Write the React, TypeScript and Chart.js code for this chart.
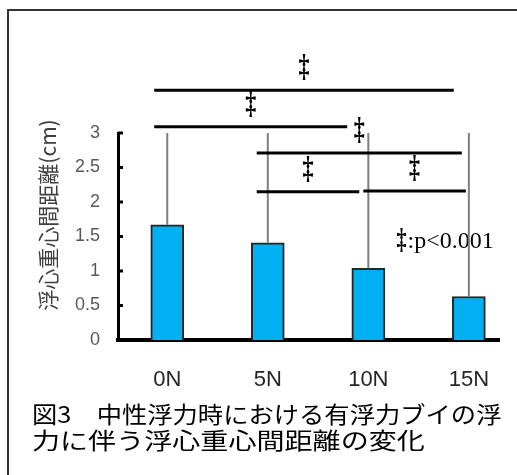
import React, { useEffect, useRef } from 'react';
import { Chart, registerables } from 'chart.js';

Chart.register(...registerables);

const categories = ['0N', '5N', '10N', '15N'];
const means = [1.67, 1.41, 1.04, 0.63];
const errors = [1.5, 1.7, 2.1, 2.5];
const yMin = 0;
const yMax = 3;
const yStep = 0.5;

// significance brackets (data units): start x, end x, level y
const sigStart = [-0.13, -0.13, 0.89, 0.89, 1.95];
const sigEnd = [2.85, 1.79, 2.93, 1.91, 2.97];
const sigLevel = [3.62, 3.09, 2.71, 2.15, 2.16];
const sigMark = '‡';
const legendRest = ':p<0.001';
const legendPos = [2.27, 1.43];

const yTitle = '浮心重心間距離(cm)';
const caption = ['図3　中性浮力時における有浮力ブイの浮', '力に伴う浮心重心間距離の変化'];

const SANS = '"Liberation Sans", Arial, sans-serif';
const SERIF = '"Liberation Serif", "Times New Roman", serif';
const CJK = '"Noto Sans CJK JP", "Noto Sans", sans-serif';

function drawDagger(ctx: any, x: number, y: number, size: number) {
  ctx.save();
  ctx.translate(x, y);
  ctx.scale(1, 1.45);
  ctx.font = `bold ${size}px ${SERIF}`;
  ctx.textAlign = 'center';
  ctx.textBaseline = 'middle';
  ctx.fillStyle = '#000000';
  ctx.fillText(sigMark, 0, 0);
  ctx.restore();
}

const decorPlugin = {
  id: 'decor',
  beforeDraw(chart: any) {
    const ctx = chart.ctx;
    ctx.save();
    ctx.fillStyle = '#ffffff';
    ctx.fillRect(0, 0, chart.width, chart.height);
    ctx.strokeStyle = '#333333';
    ctx.lineWidth = 2;
    ctx.beginPath();
    ctx.moveTo(8, chart.height);
    ctx.lineTo(8, 10);
    ctx.lineTo(chart.width, 10);
    ctx.stroke();
    ctx.restore();
  },
  beforeDatasetsDraw(chart: any) {
    const ctx = chart.ctx;
    const xs = chart.scales.x;
    const ys = chart.scales.y;
    const lx = xs.getPixelForValue(legendPos[0]);
    const ly = ys.getPixelForValue(legendPos[1]);
    drawDagger(ctx, lx + 6, ly, 20);
    ctx.save();
    ctx.fillStyle = '#000000';
    ctx.font = `24px ${SERIF}`;
    ctx.textAlign = 'left';
    ctx.textBaseline = 'middle';
    ctx.fillText(legendRest, lx + 12, ly);
    ctx.restore();
  },
  afterDatasetsDraw(chart: any) {
    const ctx = chart.ctx;
    const xs = chart.scales.x;
    const ys = chart.scales.y;
    const area = chart.chartArea;
    const meta = chart.getDatasetMeta(0);
    ctx.save();
    // error bars (upper only, clipped to the plot top)
    ctx.strokeStyle = '#7f7f7f';
    ctx.lineWidth = 2;
    meta.data.forEach((bar: any, i: number) => {
      const yTop = Math.max(ys.getPixelForValue(means[i] + errors[i]), area.top);
      ctx.beginPath();
      ctx.moveTo(bar.x, bar.y);
      ctx.lineTo(bar.x, yTop);
      ctx.stroke();
    });
    // y axis inner tick nubs
    ctx.strokeStyle = '#000000';
    ctx.lineWidth = 3;
    ys.ticks.forEach((t: any) => {
      const y = ys.getPixelForValue(t.value);
      ctx.beginPath();
      ctx.moveTo(area.left, y);
      ctx.lineTo(area.left + 5, y);
      ctx.stroke();
    });
    // significance brackets
    sigStart.forEach((s, i) => {
      const x1 = xs.getPixelForValue(s);
      const x2 = xs.getPixelForValue(sigEnd[i]);
      const y = ys.getPixelForValue(sigLevel[i]);
      ctx.strokeStyle = '#000000';
      ctx.lineWidth = 3;
      ctx.beginPath();
      ctx.moveTo(x1, y);
      ctx.lineTo(x2, y);
      ctx.stroke();
      drawDagger(ctx, (x1 + x2) / 2, y - 22, 22);
    });
    // y axis title
    ctx.fillStyle = '#404040';
    ctx.font = `21px ${CJK}`;
    ctx.textAlign = 'center';
    ctx.textBaseline = 'middle';
    ctx.translate(48, 215);
    ctx.rotate(-Math.PI / 2);
    ctx.fillText(yTitle, 0, 0);
    ctx.restore();
    // caption
    ctx.save();
    ctx.fillStyle = '#000000';
    ctx.font = `23px ${CJK}`;
    ctx.textAlign = 'left';
    ctx.textBaseline = 'middle';
    const lineY = [414, 440];
    const lineScale = [1.1, 1.22];
    caption.forEach((line, i) => {
      ctx.save();
      ctx.translate(32, lineY[i]);
      ctx.scale(lineScale[i], 1);
      ctx.fillText(line, 0, 0);
      ctx.restore();
    });
    ctx.restore();
  },
};

export default function App() {
  const canvasRef = useRef<HTMLCanvasElement | null>(null);

  useEffect(() => {
    const canvas = canvasRef.current;
    if (!canvas) return;
    const chart = new Chart(canvas, {
      type: 'bar',
      data: {
        datasets: [
          {
            data: means.map((m, i) => ({ x: i, y: m })),
            backgroundColor: '#00B0F0',
            borderColor: '#262626',
            borderWidth: 2,
            barThickness: 33,
          },
        ],
      },
      options: {
        animation: false,
        responsive: false,
        devicePixelRatio: 1,
        layout: { padding: { top: 133, right: 12, bottom: 75, left: 0 } },
        plugins: {
          legend: { display: false },
          tooltip: { enabled: false },
          title: { display: false },
        },
        scales: {
          x: {
            type: 'linear',
            min: -0.49,
            max: 3.304,
            offset: false,
            afterBuildTicks: (s: any) => {
              s.ticks = categories.map((_, i) => ({ value: i }));
            },
            afterFit: (s: any) => {
              s.height = 60;
            },
            ticks: {
              autoSkip: false,
              maxRotation: 0,
              padding: 27,
              color: '#262626',
              font: { family: SANS, size: 22 },
              callback: (v: any) => categories[v] ?? '',
            },
            grid: { display: false, drawTicks: false, offset: false },
            border: { display: true, width: 4, color: '#000000' },
          },
          y: {
            min: yMin,
            max: yMax,
            afterFit: (s: any) => {
              s.width = 118;
            },
            ticks: {
              stepSize: yStep,
              padding: 18,
              color: '#595959',
              font: { family: SANS, size: 18 },
              callback: (v: any) => String(Number(v)),
            },
            grid: { display: false, drawTicks: false },
            border: { display: true, width: 3, color: '#000000' },
          },
        },
      },
      plugins: [decorPlugin],
    });
    return () => chart.destroy();
  }, []);

  return (
    <div style={{ position: 'absolute', left: 0, top: 0, width: 517, height: 475 }}>
      <canvas ref={canvasRef} width={517} height={475} />
    </div>
  );
}
